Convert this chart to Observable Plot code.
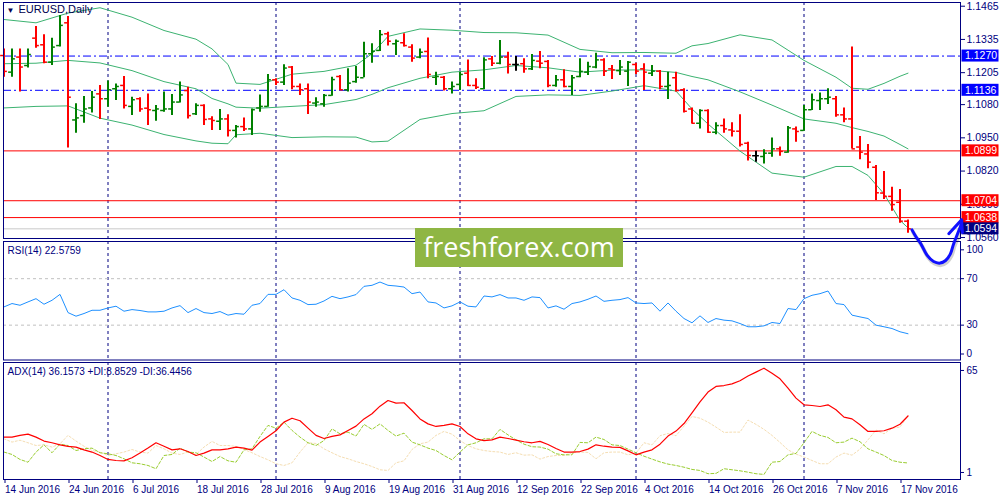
<!DOCTYPE html>
<html><head><meta charset="utf-8">
<script src="https://cdn.jsdelivr.net/npm/d3@7"></script>
<script src="https://cdn.jsdelivr.net/npm/@observablehq/plot@0.6"></script>
<style>
html,body{margin:0;padding:0;background:#fff;width:1000px;height:500px;overflow:hidden;}
#wrap{position:relative;width:1000px;height:500px;}
.panel{position:absolute;left:0;}
#main{top:0;z-index:3;}
#rsi{top:240px;z-index:1;}
#adx{top:360px;z-index:1;}
#wm{position:absolute;left:415px;top:228px;width:208px;height:39px;background:#8fb644;color:#fff;font-family:"Open Sans",sans-serif;font-size:27px;line-height:37px;text-align:center;z-index:4;}
</style></head>
<body><div id="wrap"><div id="main" class="panel"></div><div id="rsi" class="panel"></div><div id="adx" class="panel"></div><div id="wm">freshforex.com</div></div>
<script>
// ---------------- data ----------------
const symbolTitle = "EURUSD,Daily";
const xLabels = ["14 Jun 2016","24 Jun 2016","6 Jul 2016","18 Jul 2016","28 Jul 2016","9 Aug 2016","19 Aug 2016","31 Aug 2016","12 Sep 2016","22 Sep 2016","4 Oct 2016","14 Oct 2016","26 Oct 2016","7 Nov 2016","17 Nov 2016"];
const xLabelBars = [0,8,16,24,32,40,48,56,64,72,80,88,96,104,112];
const monthStartBars = [13,34,57,79,100];
const priceTicks = [1.1465,1.1335,1.1205,1.1080,1.0950,1.0820,1.0690,1.0560];
const blueLevels = [1.1270,1.1136];
const redLevels = [1.0899,1.0704,1.0638];
const lastPrice = 1.0594;

const open = [1.1272,1.1207,1.1266,1.1233,1.1340,1.1314,1.1246,1.1311,1.1400,1.1020,
1.1037,1.1067,1.1122,1.1103,1.1142,1.1155,1.1073,1.1103,1.1066,1.1057,
1.1057,1.1063,1.1090,1.1135,1.1044,1.1077,1.1024,1.1015,1.1024,1.0979,
1.0994,1.0985,1.1067,1.1073,1.1177,1.1168,1.1227,1.1151,1.1142,1.1086,
1.1083,1.1116,1.1190,1.1138,1.1170,1.1185,1.1279,1.1292,1.1357,1.1318,
1.1322,1.1305,1.1266,1.1288,1.1187,1.1187,1.1142,1.1159,1.1203,1.1155,
1.1142,1.1259,1.1242,1.1266,1.1237,1.1240,1.1220,1.1250,1.1249,1.1155,
1.1177,1.1151,1.1190,1.1207,1.1227,1.1255,1.1220,1.1213,1.1211,1.1237,
1.1220,1.1203,1.1211,1.1151,1.1185,1.1138,1.1063,1.1007,1.1057,1.0972,
1.0998,1.0981,1.0976,1.0929,1.0880,1.0877,1.0890,1.0907,1.0894,1.0985,
1.0979,1.1060,1.1096,1.1103,1.1103,1.1040,1.1024,1.0914,1.0887,1.0835,
1.0734,1.0721,1.0698,1.0624];
const high = [1.1298,1.1298,1.1298,1.1298,1.1386,1.1353,1.1340,1.1429,1.1425,1.1083,
1.1112,1.1131,1.1155,1.1172,1.1161,1.1190,1.1109,1.1107,1.1122,1.1077,
1.1129,1.1120,1.1168,1.1148,1.1083,1.1079,1.1033,1.1061,1.1040,1.0998,
1.1028,1.1063,1.1118,1.1198,1.1181,1.1236,1.1229,1.1161,1.1161,1.1107,
1.1120,1.1187,1.1194,1.1220,1.1229,1.1324,1.1318,1.1370,1.1363,1.1333,
1.1357,1.1314,1.1298,1.1341,1.1207,1.1190,1.1168,1.1207,1.1255,1.1181,
1.1263,1.1268,1.1331,1.1285,1.1268,1.1259,1.1276,1.1288,1.1253,1.1194,
1.1216,1.1194,1.1259,1.1246,1.1281,1.1259,1.1233,1.1253,1.1249,1.1242,
1.1240,1.1233,1.1213,1.1207,1.1207,1.1142,1.1067,1.1060,1.1060,1.1009,
1.1024,1.1009,1.1040,1.0933,1.0898,1.0903,1.0949,1.0914,1.0994,1.0992,
1.1077,1.1122,1.1125,1.1142,1.1112,1.1067,1.1305,1.0955,1.0924,1.0842,
1.0818,1.0757,1.0748,1.0629];
const low = [1.1187,1.1187,1.1129,1.1223,1.1301,1.1240,1.1233,1.1305,1.0910,1.0968,
1.1007,1.1047,1.1022,1.1070,1.1096,1.1063,1.1037,1.1050,1.0998,1.1015,
1.1050,1.1037,1.1086,1.1024,1.1037,1.0998,1.0979,1.0979,1.0953,1.0949,
1.0975,1.0959,1.1050,1.1070,1.1155,1.1155,1.1138,1.1116,1.1041,1.1070,
1.1070,1.1113,1.1135,1.1129,1.1164,1.1185,1.1242,1.1288,1.1309,1.1272,
1.1305,1.1246,1.1259,1.1181,1.1155,1.1133,1.1122,1.1135,1.1151,1.1139,
1.1138,1.1229,1.1236,1.1200,1.1211,1.1203,1.1213,1.1220,1.1146,1.1148,
1.1146,1.1116,1.1185,1.1194,1.1220,1.1190,1.1178,1.1194,1.1151,1.1198,
1.1135,1.1190,1.1138,1.1100,1.1129,1.1047,1.1005,1.0985,1.0968,1.0962,
1.0968,1.0953,1.0914,1.0859,1.0855,1.0848,1.0874,1.0878,1.0890,1.0933,
1.0976,1.1057,1.1057,1.1080,1.1031,1.1009,1.0907,1.0864,1.0829,1.0705,
1.0709,1.0663,1.0616,1.0577];
const close = [1.1210,1.1259,1.1227,1.1276,1.1311,1.1246,1.1305,1.1390,1.1109,1.1028,
1.1063,1.1109,1.1103,1.1138,1.1151,1.1077,1.1099,1.1063,1.1060,1.1063,
1.1063,1.1090,1.1118,1.1037,1.1077,1.1022,1.1018,1.1024,1.0979,1.0994,
1.0985,1.1060,1.1073,1.1177,1.1168,1.1223,1.1151,1.1138,1.1090,1.1090,
1.1116,1.1178,1.1138,1.1164,1.1187,1.1279,1.1289,1.1354,1.1328,1.1328,
1.1311,1.1262,1.1285,1.1198,1.1190,1.1142,1.1151,1.1198,1.1155,1.1148,
1.1255,1.1242,1.1266,1.1237,1.1237,1.1220,1.1253,1.1242,1.1155,1.1177,
1.1151,1.1185,1.1210,1.1229,1.1255,1.1211,1.1216,1.1227,1.1246,1.1211,
1.1207,1.1211,1.1151,1.1155,1.1135,1.1054,1.1007,1.1057,1.0972,1.0998,
1.0985,1.0976,1.0924,1.0881,1.0880,1.0890,1.0907,1.0897,1.0989,1.0975,
1.1060,1.1099,1.1103,1.1109,1.1040,1.1024,1.0907,1.0894,1.0855,1.0735,
1.0721,1.0689,1.0624,1.0594];

const bbIdx = [0,4,8,12,16,20,24,26,28,29,32,36,40,44,46,48,52,56,60,64,68,72,76,80,84,86,88,92,96,100,104,106,108,110,112,113];
const bbUpper = [1.1413,1.1400,1.1438,1.1459,1.1422,1.1370,1.1336,1.1298,1.1237,1.1164,1.1159,1.1199,1.1210,1.1234,1.1279,1.1347,1.1376,1.1371,1.1362,1.1361,1.1352,1.1296,1.1283,1.1284,1.1281,1.1310,1.1319,1.1353,1.1333,1.1253,1.1187,1.1144,1.1140,1.1163,1.1191,1.1203];
const bbMiddle = [1.1240,1.1242,1.1253,1.1243,1.1213,1.1170,1.1142,1.1104,1.1083,1.1070,1.1066,1.1073,1.1080,1.1100,1.1120,1.1146,1.1183,1.1207,1.1216,1.1233,1.1224,1.1207,1.1215,1.1216,1.1206,1.1190,1.1177,1.1130,1.1078,1.1024,1.1007,1.0990,1.0975,1.0957,1.0924,1.0907];
const bbLower = [1.1067,1.1073,1.1075,1.1027,1.1000,1.0963,1.0938,1.0929,1.0927,1.0962,1.0968,1.0951,1.0954,1.0953,1.0934,1.0937,1.1022,1.1045,1.1056,1.1112,1.1118,1.1116,1.1133,1.1154,1.1133,1.1063,1.1004,1.0898,1.0812,1.0796,1.0838,1.0838,1.0803,1.0731,1.0627,1.0598];

const rsiLevels = [70,30];
const rsi = [45.7,48.6,47.1,50.0,52.8,48.0,51.4,56.5,40.8,37.7,
40.0,42.8,42.8,44.8,46.3,42.0,43.4,42.6,41.4,41.4,
42.0,44.8,46.8,40.8,44.3,40.8,40.0,41.7,38.6,40.0,
39.4,47.1,48.6,56.5,56.5,60.5,53.4,51.4,47.7,48.0,
50.8,54.8,52.8,54.3,56.3,63.4,64.3,67.1,64.3,63.7,
62.8,57.1,58.5,50.0,49.1,44.8,46.6,50.0,46.3,45.7,
55.1,54.3,56.3,53.4,53.4,51.4,54.3,53.7,44.8,46.6,
43.7,48.6,50.0,52.3,55.1,50.5,51.4,52.0,53.7,49.1,
48.6,49.1,42.0,49.1,42.0,35.7,32.0,38.0,32.3,35.7,
34.3,33.7,31.4,28.6,28.6,29.4,32.3,31.4,44.3,43.4,
52.8,55.7,57.1,59.4,48.6,47.7,38.6,37.1,35.7,30.0,
28.6,27.1,24.3,22.6];

const adx = [23.9,23.9,24.9,25.6,23.9,21.6,20.6,19.4,18.5,18.1,
16.5,15.2,13.2,10.9,10.3,10.1,11.9,14.6,17.5,20.6,
18.6,16.5,17.1,15.5,13.2,14.6,16.5,16.5,17.1,18.1,
17.5,16.3,21.0,24.3,27.6,32.6,34.9,33.4,29.1,24.9,
23.1,24.3,25.2,27.8,30.3,34.5,37.5,41.9,45.2,43.7,
43.9,39.4,34.5,31.6,30.1,30.7,31.6,30.1,25.8,22.9,
21.9,22.3,23.9,23.1,22.1,21.2,20.6,21.4,19.6,17.3,
15.2,15.2,15.5,16.9,19.4,18.6,18.1,17.9,15.9,13.6,
15.2,16.5,19.8,24.5,27.4,31.8,38.0,44.4,50.1,53.4,
53.9,54.9,56.7,59.4,61.7,64.0,61.1,57.8,52.4,46.6,
42.7,42.3,41.7,42.7,39.8,35.5,34.5,31.1,27.2,27.2,
27.6,29.1,31.4,36.2];
const plusDI = [15.2,13.8,10.9,9.3,15.2,19.4,14.8,19.8,19.0,16.1,
17.1,17.5,14.8,14.2,13.2,11.3,8.95,8.4,7.4,5.5,
13.2,13.8,17.5,15.2,14.8,12.3,9.7,12.6,10.1,9.3,
16.5,17.1,24.3,30.7,29.1,32.6,27.8,23.9,20.6,19.0,
21.9,28.7,25.8,26.8,24.5,31.3,28.4,31.6,27.8,24.5,
26.2,21.0,19.4,17.5,16.1,13.2,10.7,15.2,19.4,20.6,
22.9,22.9,28.4,25.2,22.3,19.8,18.3,18.1,16.9,14.2,
13.6,13.6,20.8,20.6,23.9,22.5,19.4,19.0,16.9,14.8,
12.8,11.1,9.5,8.2,7.4,6.4,5.1,4.5,2.6,2.8,
5.5,4.9,4.3,3.5,2.6,2.2,9.3,9.7,13.6,14.4,
20.6,27.2,24.9,23.7,20.6,21.0,23.3,21.2,17.1,15.2,
13.2,10.3,9.3,8.85];
const minusDI = [22.9,21.0,22.1,20.6,19.0,19.4,18.1,20.0,24.9,21.6,
18.6,16.1,15.2,13.2,14.2,15.2,16.7,15.2,14.6,19.0,
17.1,14.6,13.8,15.2,13.8,18.1,21.4,19.0,19.0,18.5,
16.7,14.8,12.6,10.7,8.4,7.4,8.95,15.2,20.6,20.2,
17.1,14.8,12.6,11.3,9.7,8.4,6.8,4.9,4.5,8.95,
10.1,16.7,20.0,21.0,24.9,27.2,25.6,21.9,19.0,17.1,
16.1,15.5,15.2,13.8,14.8,13.4,13.6,11.1,12.6,13.2,
13.2,14.8,15.2,15.0,11.3,14.8,15.2,15.2,13.6,14.6,
20.6,19.4,24.7,26.0,24.7,30.3,35.9,34.9,32.6,29.7,
26.6,26.8,26.8,33.8,31.3,28.4,24.9,20.8,16.5,14.0,
12.3,10.3,8.4,8.4,12.3,14.6,13.4,16.9,22.3,28.0,
25.8,29.1,29.7,36.4];

// hand-drawn arrow annotation (bar index, price)
const arrowBar = [113.5,113.9,114.6,115.4,116.2,117.0,117.7,118.3,118.7,119.2,119.6,119.7];
const arrowPrice = [1.0590,1.0568,1.0536,1.0490,1.0466,1.0460,1.0470,1.0496,1.0535,1.0575,1.0608,1.0629];
const headBar = [118.1,119.7,119.8];
const headPrice = [1.0575,1.0629,1.0580];

const rsiText = "RSI(14) 22.5759";
const adxText = "ADX(14) 36.1573 +DI:8.8529 -DI:36.4456";

// ---------------- drawing ----------------
const NAVY = "#000080";
const FONT = "'Liberation Sans', Arial, sans-serif";
const baseStyle = {background:"transparent", overflow:"visible", fontFamily:FONT, fontSize:"10px", color:NAVY};
const xScale = {domain:[-0.0625, 119.5625], axis:null};
const W = 1000, ML = 3, MR = 40;
const monthRule = () => Plot.ruleX(monthStartBars, {x:d=>d, stroke:NAVY, strokeDasharray:"3,3", strokeWidth:1});

const bars = open.map((o,i)=>({i, o, h:high[i], l:low[i], c:close[i]}));
const barColor = d => d.c > d.o ? "#008000" : (d.c < d.o ? "#ff0000" : "#000000");
const bb = bbIdx.map((i,k)=>({i, u:bbUpper[k], m:bbMiddle[k], l:bbLower[k]}));
const arrow = arrowBar.map((b,k)=>({b, p:arrowPrice[k]}));
const head = headBar.map((b,k)=>({b, p:headPrice[k]}));

function labelBoxes(list, fill, textFill) {
  return (index, scales, values, dimensions) => {
    const g = d3.create("svg:g");
    const x0 = dimensions.width - dimensions.marginRight;
    for (const v of list) {
      const y = scales.y(v);
      g.append("rect").attr("x", x0+1.5).attr("y", y-6).attr("width", 37).attr("height", 12).attr("fill", fill);
      g.append("text").attr("x", x0+5).attr("y", y).attr("dy","0.36em").attr("fill", textFill)
        .attr("text-anchor","start")
        .attr("font-size", 10.5).attr("font-family", FONT).text(v.toFixed(4));
    }
    return g.node();
  };
}

const mainPlot = Plot.plot({
  width:W, height:240, marginLeft:ML, marginRight:MR, marginTop:2, marginBottom:2,
  x:xScale, y:{domain:[1.05562, 1.14795]}, color:{type:"identity"},
  style:baseStyle,
  marks:[
    monthRule(),
    Plot.ruleY(blueLevels, {y:d=>d, stroke:"#0000ff", strokeDasharray:"8,3,2,3"}),
    Plot.ruleY([lastPrice], {y:d=>d, stroke:"#c8c8c8"}),
    Plot.ruleY(redLevels, {y:d=>d, stroke:"#ff0000"}),
    Plot.line(bb, {x:"i", y:"u", stroke:"#3cb371", strokeWidth:1}),
    Plot.line(bb, {x:"i", y:"m", stroke:"#3cb371", strokeWidth:1}),
    Plot.line(bb, {x:"i", y:"l", stroke:"#3cb371", strokeWidth:1}),
    Plot.ruleX(bars, {x:"i", y1:"l", y2:"h", stroke:barColor, strokeWidth:2}),
    Plot.ruleY(bars, {y:"o", x1:d=>d.i-0.42, x2:"i", stroke:barColor, strokeWidth:1.5}),
    Plot.ruleY(bars, {y:"c", x1:"i", x2:d=>d.i+0.42, stroke:barColor, strokeWidth:1.5}),
    Plot.frame({stroke:NAVY}),
    Plot.axisY(priceTicks, {anchor:"right", tickSize:4, tickPadding:2, tickFormat:d=>d.toFixed(4), fontSize:10.5, label:null}),
    labelBoxes(blueLevels, "#0000ff", "#ffffff"),
    labelBoxes(redLevels, "#ff0000", "#ffffff"),
    labelBoxes([lastPrice], "#000080", "#ffffff"),
    Plot.text(["\u25BC"], {frameAnchor:"top-left", text:d=>d, dx:3, dy:5, fontSize:8, textAnchor:"start", lineAnchor:"top", fill:"#000050"}),
    Plot.text([symbolTitle], {frameAnchor:"top-left", text:d=>d, dx:15, dy:3, fontSize:11, textAnchor:"start", lineAnchor:"top", fill:"#000050"}),
    Plot.line(arrow, {x:"b", y:"p", curve:"catmull-rom", stroke:"#000000", strokeOpacity:0.18, strokeWidth:4, dx:1, dy:2, strokeLinecap:"round"}),
    Plot.line(arrow, {x:"b", y:"p", curve:"catmull-rom", stroke:"#1010ff", strokeWidth:3, strokeLinecap:"round", strokeLinejoin:"round"}),
    Plot.line(head, {x:"b", y:"p", stroke:"#1010ff", strokeWidth:3, strokeLinecap:"round", strokeLinejoin:"round"})
  ]
});
document.getElementById("main").appendChild(mainPlot);

const rsiPlot = Plot.plot({
  width:W, height:121, marginLeft:ML, marginRight:MR, marginTop:1, marginBottom:1.5,
  x:xScale, y:{domain:[0,102]},
  style:baseStyle,
  marks:[
    monthRule(),
    Plot.ruleY(rsiLevels, {y:d=>d, stroke:"#c0c0c0", strokeDasharray:"3,3"}),
    Plot.line(rsi, {x:(d,i)=>i, y:d=>d, stroke:"#1e90ff", strokeWidth:1}),
    Plot.frame({stroke:NAVY}),
    Plot.axisY(rsiLevels, {anchor:"right", tickSize:3, tickPadding:3, tickFormat:d=>String(d), label:null}),
    Plot.axisY([100], {anchor:"right", tickSize:3, tickPadding:3, tickFormat:d=>String(d), dy:6, label:null}),
    Plot.axisY([0], {anchor:"right", tickSize:3, tickPadding:3, tickFormat:d=>String(d), dy:-6, label:null}),
    Plot.text([rsiText], {frameAnchor:"top-left", text:d=>d, dx:4, dy:5, textAnchor:"start", lineAnchor:"top", fill:NAVY})
  ]
});
document.getElementById("rsi").appendChild(rsiPlot);

const adxPlot = Plot.plot({
  width:W, height:140, marginLeft:ML, marginRight:MR, marginTop:2, marginBottom:21,
  x:{domain:xScale.domain}, y:{domain:[-0.76, 67.3]},
  style:baseStyle,
  marks:[
    monthRule(),
    Plot.line(minusDI, {x:(d,i)=>i, y:d=>d, stroke:"#f5deb3", strokeWidth:1, strokeDasharray:"2,2"}),
    Plot.line(plusDI, {x:(d,i)=>i, y:d=>d, stroke:"#9acd32", strokeWidth:1, strokeDasharray:"3,2"}),
    Plot.line(adx, {x:(d,i)=>i, y:d=>d, stroke:"#ff0000", strokeWidth:1.2}),
    Plot.frame({stroke:NAVY}),
    Plot.axisY([65], {anchor:"right", tickSize:3, tickPadding:3, tickFormat:d=>String(d), dy:4, label:null}),
    Plot.axisY([1], {anchor:"right", tickSize:3, tickPadding:3, tickFormat:d=>String(d), dy:-4, label:null}),
    Plot.axisX(xLabelBars, {anchor:"bottom", tickSize:4, tickPadding:2, tickFormat:d=>xLabels[xLabelBars.indexOf(d)], textAnchor:"start", dx:1, label:null}),
    Plot.text([adxText], {frameAnchor:"top-left", text:d=>d, dx:4, dy:5, textAnchor:"start", lineAnchor:"top", fill:NAVY})
  ]
});
document.getElementById("adx").appendChild(adxPlot);
</script>
</body></html>
